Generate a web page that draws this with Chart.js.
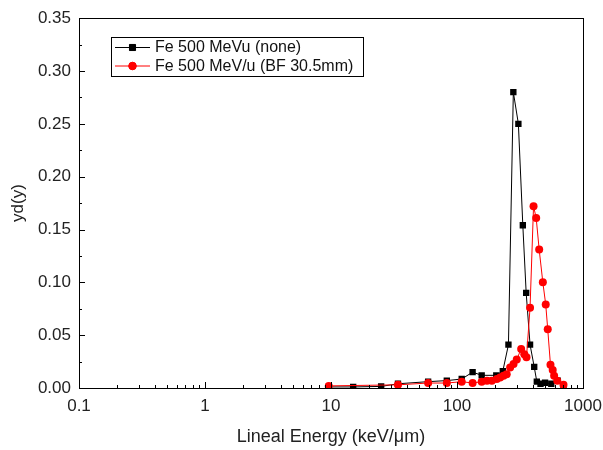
<!DOCTYPE html>
<html>
<head>
<meta charset="utf-8">
<script src="https://cdn.jsdelivr.net/npm/chart.js@4"></script>
<style>
  html, body { margin: 0; padding: 0; background: #fff; }
  #wrap { width: 603px; height: 450px; position: relative; }
</style>
</head>
<body>
<div id="wrap"><canvas id="c" width="603" height="450"></canvas></div>
<script>
// ---- data ----
const noneX = [9.6, 15, 25, 34, 59, 83, 109, 133, 157, 205, 231, 256, 280, 307, 333, 354, 380, 410, 430, 460, 500, 560, 630, 700];
const noneY = [0.001, 0.001, 0.0015, 0.004, 0.006, 0.007, 0.0085, 0.015, 0.012, 0.012, 0.016, 0.041, 0.280, 0.250, 0.154, 0.090, 0.041, 0.020, 0.006, 0.004, 0.005, 0.004, 0.007, 0.002];

const bfX = [9.6, 34, 59, 83, 109, 133, 157, 173, 189, 207, 220, 234, 248, 264, 281, 298, 323, 342, 356, 380, 405, 425, 449, 480, 506, 525, 552, 575, 590, 625, 700];
const bfY = [0.002, 0.003, 0.0047, 0.0047, 0.006, 0.0047, 0.006, 0.0069, 0.0069, 0.0085, 0.010, 0.0116, 0.013, 0.0195, 0.0226, 0.027, 0.037, 0.032, 0.029, 0.076, 0.172, 0.161, 0.131, 0.100, 0.079, 0.0555, 0.022, 0.017, 0.0116, 0.0069, 0.003];

const seriesNames = ['Fe 500 MeVu (none)', 'Fe 500 MeV/u (BF 30.5mm)'];
const xTickLabels = ['0.1', '1', '10', '100', '1000'];
const yTicks = [0, 0.05, 0.10, 0.15, 0.20, 0.25, 0.30, 0.35];
const xTitle = 'Lineal Energy (keV/\u03bcm)';
const yTitle = 'yd(y)';

const FONT = "'Liberation Sans', Arial, sans-serif";

function pts(xs, ys) { return xs.map((x, i) => ({ x: x, y: ys[i] })); }

const framePlugin = {
  id: 'frame',
  afterDraw(chart) {
    const { ctx, chartArea: a, scales } = chart;
    ctx.save();
    ctx.strokeStyle = '#000';
    ctx.lineWidth = 1;
    ctx.strokeRect(Math.round(a.left) + 0.5, Math.round(a.top) + 0.5,
                   Math.round(a.right - a.left), Math.round(a.bottom - a.top));
    // x ticks (inside, bottom)
    const xs = scales.x;
    ctx.beginPath();
    for (let e = -1; e < 3; e++) {
      for (let m = 1; m <= 9; m++) {
        const v = m * Math.pow(10, e);
        const px = Math.round(xs.getPixelForValue(v)) + 0.5;
        const len = (m === 1) ? 6 : 3;
        ctx.moveTo(px, a.bottom);
        ctx.lineTo(px, a.bottom - len);
      }
    }
    const p1000 = Math.round(xs.getPixelForValue(1000)) + 0.5;
    ctx.moveTo(p1000, a.bottom); ctx.lineTo(p1000, a.bottom - 6);
    // y ticks (inside, left)
    const ys = scales.y;
    for (let i = 0; i <= 14; i++) {
      const v = i * 0.025;
      const py = Math.round(ys.getPixelForValue(v)) + 0.5;
      const len = (i % 2 === 0) ? 6 : 3;
      ctx.moveTo(a.left, py);
      ctx.lineTo(a.left + len, py);
    }
    ctx.stroke();

    // legend
    const lx = 111.5, ly = 37.5, lw = 252, lh = 39;
    ctx.fillStyle = '#fff';
    ctx.fillRect(lx, ly, lw, lh);
    ctx.strokeRect(lx, ly, lw, lh);
    const rows = [
      { y: 47, color: '#000', style: 'rect', r: 4.3 },
      { y: 65.5, color: '#ff0000', style: 'circle', r: 3.8 }
    ];
    ctx.font = '16px ' + FONT;
    ctx.textBaseline = 'middle';
    ctx.textAlign = 'left';
    rows.forEach((row, i) => {
      ctx.strokeStyle = row.color;
      ctx.beginPath();
      ctx.moveTo(115, row.y + 0.5);
      ctx.lineTo(150, row.y + 0.5);
      ctx.stroke();
      ctx.fillStyle = row.color;
      Chart.helpers.drawPoint(ctx, { pointStyle: row.style, radius: row.r, borderWidth: 1 }, 132.5, row.y + 0.5);
      ctx.fill();
      ctx.fillStyle = '#111';
      ctx.fillText(seriesNames[i], 155, row.y + 1);
    });
    ctx.restore();
  }
};

new Chart(document.getElementById('c'), {
  type: 'scatter',
  data: {
    datasets: [
      {
        label: seriesNames[0],
        data: pts(noneX, noneY),
        showLine: true,
        borderColor: '#000',
        backgroundColor: '#000',
        borderWidth: 1,
        pointStyle: 'rect',
        pointRadius: 4.5,
        pointBorderWidth: 0,
        order: 2
      },
      {
        label: seriesNames[1],
        data: pts(bfX, bfY),
        showLine: true,
        borderColor: '#ff0000',
        backgroundColor: '#ff0000',
        borderWidth: 1,
        pointStyle: 'circle',
        pointRadius: 4,
        pointBorderWidth: 0,
        order: 1
      }
    ]
  },
  options: {
    responsive: false,
    animation: false,
    devicePixelRatio: 1,
    layout: { padding: { left: 0, top: 17, right: 0, bottom: 0 } },
    plugins: { legend: { display: false }, tooltip: { enabled: false } },
    scales: {
      x: {
        type: 'logarithmic',
        min: 0.1,
        max: 1000,
        grid: { display: false, drawTicks: false },
        border: { display: false },
        afterBuildTicks(scale) {
          scale.ticks = xTickLabels.map(t => ({ value: parseFloat(t) }));
        },
        afterFit(scale) { scale.height = 62; scale.paddingRight = 20; },
        ticks: {
          autoSkip: false,
          maxRotation: 0,
          padding: 8,
          color: '#222',
          font: { family: FONT, size: 17 },
          callback: (v) => {
            const idx = xTickLabels.findIndex(t => Math.abs(parseFloat(t) - v) < 1e-9);
            return idx >= 0 ? xTickLabels[idx] : '';
          }
        },
        title: {
          display: true,
          text: xTitle,
          color: '#222',
          font: { family: FONT, size: 18 },
          padding: { top: 0, bottom: 2 }
        }
      },
      y: {
        type: 'linear',
        min: 0,
        max: 0.35,
        grid: { display: false, drawTicks: false },
        border: { display: false },
        afterBuildTicks(scale) {
          scale.ticks = yTicks.map(v => ({ value: v }));
        },
        afterFit(scale) { scale.width = 79; },
        ticks: {
          padding: 8,
          color: '#222',
          font: { family: FONT, size: 17 },
          callback: (v) => Number(v).toFixed(2)
        },
        title: {
          display: true,
          text: yTitle,
          color: '#222',
          font: { family: FONT, size: 17 },
          padding: { top: 8, bottom: 0 }
        }
      }
    }
  },
  plugins: [framePlugin]
});
</script>
</body>
</html>
